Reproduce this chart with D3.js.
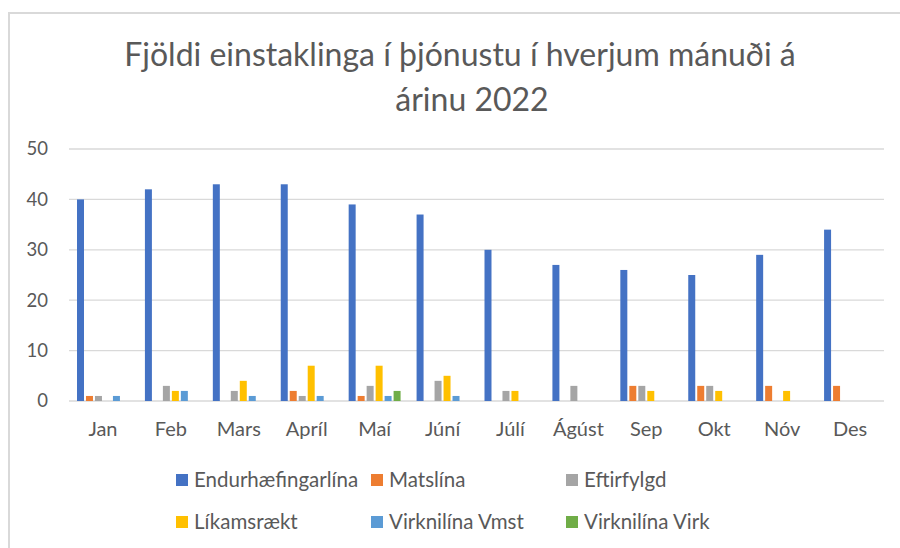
<!DOCTYPE html>
<html>
<head>
<meta charset="utf-8">
<script src="https://cdn.jsdelivr.net/npm/d3@7"></script>
<style>
  body { margin: 0; background: #fff; }
  text { font-family: Lato, "Open Sans", sans-serif; fill: #595959; }
</style>
</head>
<body>
<script>
const months = ['Jan', 'Feb', 'Mars', 'Apríl', 'Maí', 'Júní', 'Júlí', 'Ágúst', 'Sep', 'Okt', 'Nóv', 'Des'];
const seriesNames = ['Endurhæfingarlína', 'Matslína', 'Eftirfylgd', 'Líkamsrækt', 'Virknilína Vmst', 'Virknilína Virk'];
const colors = ['#4472C4', '#ED7D31', '#A5A5A5', '#FFC000', '#5B9BD5', '#70AD47'];

const endurhaefing = [40, 42, 43, 43, 39, 37, 30, 27, 26, 25, 29, 34];
const matslina     = [1, 0, 0, 2, 1, 0, 0, 0, 3, 3, 3, 3];
const eftirfylgd   = [1, 3, 2, 1, 3, 4, 2, 3, 3, 3, 0, 0];
const likamsraekt  = [0, 2, 4, 7, 7, 5, 2, 0, 2, 2, 2, 0];
const vmst         = [1, 2, 1, 1, 1, 1, 0, 0, 0, 0, 0, 0];
const virk         = [0, 0, 0, 0, 2, 0, 0, 0, 0, 0, 0, 0];
const yTicks = [0, 10, 20, 30, 40, 50];

const titleLines = ['Fjöldi einstaklinga í þjónustu í hverjum mánuði á', 'árinu 2022'];

const allSeries = [endurhaefing, matslina, eftirfylgd, likamsraekt, vmst, virk];

const box = {
  width: 900,
  height: 548,
  plot: { left: 69, right: 884, top: 149, bottom: 401 }
}

const svg = d3.select('body')
  .append('svg')
  .attr('width', box.width)
  .attr('height', box.height)

// chart frame
svg.append('path')
  .attr('d', `M9,${box.height} V13 H${box.width}`)
  .attr('fill', 'none')
  .attr('stroke', '#D9D9D9')
  .attr('stroke-width', 2)

// title
svg.append('text')
  .attr('x', 460)
  .attr('y', 66)
  .attr('text-anchor', 'middle')
  .attr('font-size', 32)
  .text(titleLines[0])
svg.append('text')
  .attr('x', 472)
  .attr('y', 111)
  .attr('text-anchor', 'middle')
  .attr('font-size', 32)
  .text(titleLines[1])

const x0 = d3.scaleBand()
  .domain(months)
  .range([box.plot.left, box.plot.right])

const x1 = d3.scaleBand()
  .domain(seriesNames)
  .range([8, x0.bandwidth() - 8])
  .paddingInner(0.222)

const y = d3.scaleLinear()
  .domain([0, 50])
  .range([box.plot.bottom, box.plot.top])

// gridlines
svg.append('g')
  .selectAll('line')
  .data(yTicks)
  .join('line')
  .attr('x1', box.plot.left)
  .attr('x2', box.plot.right)
  .attr('y1', d => y(d))
  .attr('y2', d => y(d))
  .attr('stroke', '#D9D9D9')
  .attr('stroke-width', 1.3)

const yAxis = d3.axisLeft(y).tickValues(yTicks).tickSize(0).tickPadding(0);
svg.append('g')
  .attr('transform', 'translate(48,0)')
  .call(yAxis)
  .call(g => g.select('.domain').remove())
  .call(g => g.selectAll('text')
    .attr('font-size', 18.5)
    .attr('fill', '#595959')
    .attr('font-family', 'Lato, "Open Sans", sans-serif'))

const xAxis = d3.axisBottom(x0).tickSize(0).tickPadding(0);
svg.append('g')
  .attr('transform', `translate(0, ${box.plot.bottom + 21})`)
  .call(xAxis)
  .call(g => g.select('.domain').remove())
  .call(g => g.selectAll('text')
    .attr('font-size', 20)
    .attr('fill', '#595959')
    .attr('font-family', 'Lato, "Open Sans", sans-serif'))

// bars
const groups = svg.append('g')
  .selectAll('g')
  .data(months)
  .join('g')
  .attr('transform', d => `translate(${x0(d)},0)`)

groups.selectAll('rect')
  .data((m, i) => allSeries.map((s, k) => ({ name: seriesNames[k], value: s[i], color: colors[k] })))
  .join('rect')
  .attr('x', d => x1(d.name))
  .attr('width', x1.bandwidth())
  .attr('y', d => y(d.value))
  .attr('height', d => y(0) - y(d.value))
  .attr('fill', d => d.color)

// legend
const legendCols = [176, 371, 566];
const legendRows = [480, 522];
const legend = svg.append('g')
  .selectAll('g')
  .data(seriesNames)
  .join('g')
  .attr('transform', (d, i) => `translate(${legendCols[i % 3]}, ${legendRows[Math.floor(i / 3)]})`)

legend.append('rect')
  .attr('x', 0)
  .attr('y', -6)
  .attr('width', 12)
  .attr('height', 12)
  .attr('fill', (d, i) => colors[i])

legend.append('text')
  .attr('x', 18)
  .attr('y', 7)
  .attr('font-size', 20.5)
  .text(d => d)
</script>
</body>
</html>
